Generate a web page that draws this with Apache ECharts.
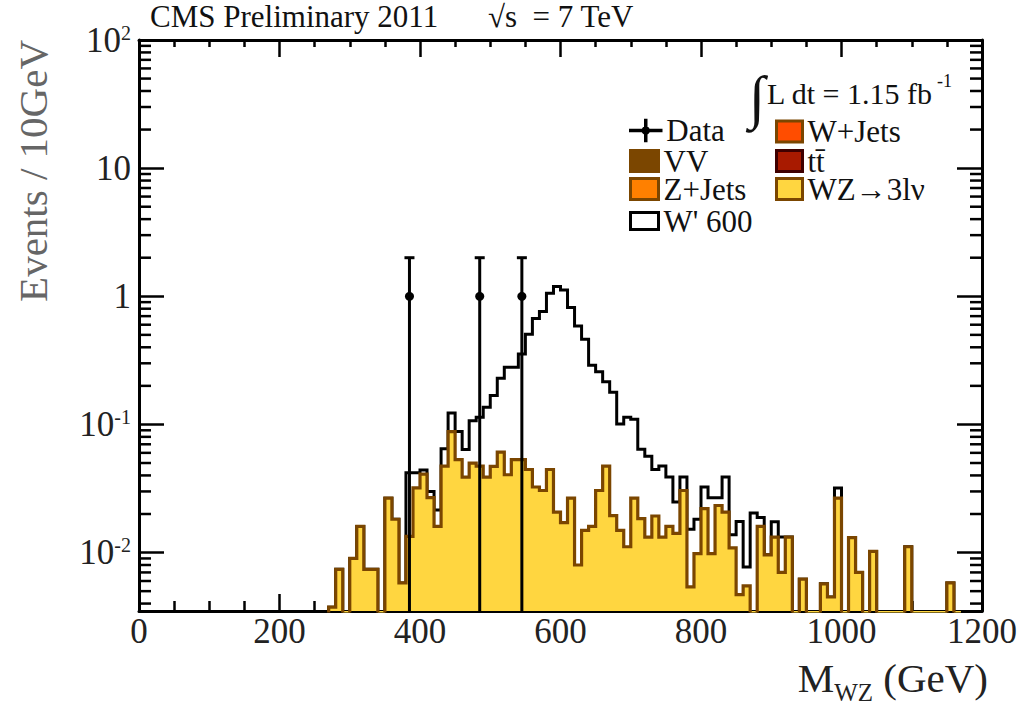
<!DOCTYPE html>
<html><head><meta charset="utf-8">
<script src="https://cdn.jsdelivr.net/npm/echarts@6/dist/echarts.min.js"></script>
<style>html,body{margin:0;padding:0;background:#fff}#c{width:1020px;height:705px}</style>
</head><body><div id="c"></div>
<script>
// ---------------- data ----------------
const binWidth = 10;          // GeV
const binStart = 270;         // low edge of first listed bin
// WZ -> 3lv background (events / 10 GeV), bins 270..1170 GeV
const wzValues = [
  0.00375, 0.0074, 0, 0.009, 0.016, 0.0074, 0.0074, 0, 0.0266, 0.0182,
  0.0058, 0.0134, 0.032, 0.041, 0.0268, 0.016, 0.0473, 0.0879, 0.0532, 0.0388,
  0.0499, 0.0473, 0.0388, 0.047, 0.0607, 0.0405, 0.0532, 0.0532, 0.0445, 0.0325,
  0.0305, 0.0445, 0.0207, 0.0171, 0.0266, 0.008, 0.0149, 0.016, 0.0305, 0.0473,
  0.0194, 0.0149, 0.0111, 0.0266, 0.0184, 0.0132, 0.0193, 0.0132, 0.016, 0.0141,
  0.0305, 0.0054, 0.0098, 0.022, 0.0098, 0.0233, 0.0207, 0.0109, 0.0047, 0.0055,
  0, 0.016, 0.0096, 0.0132, 0.007, 0.0132, 0, 0.0062, 0, 0,
  0.0057, 0.0045, 0.0266, 0, 0.0131, 0.007, 0, 0.0102, 0, 0,
  0, 0, 0.0111, 0, 0, 0, 0, 0, 0.0058, 0
];
// W' 600 signal stacked on the background (outline height), same bins
const wprimeStack = [
  0.00375, 0.0074, 0, 0.009, 0.016, 0.0074, 0.0074, 0, 0.0266, 0.0182,
  0.0058, 0.042, 0.042, 0.044, 0.030, 0.0215, 0.0645, 0.123, 0.088, 0.0637,
  0.107, 0.114, 0.136, 0.168, 0.229, 0.279, 0.279, 0.354, 0.506, 0.670,
  0.760, 1.055, 1.19, 1.12, 0.816, 0.587, 0.463, 0.290, 0.258, 0.215,
  0.178, 0.101, 0.114, 0.110, 0.064, 0.0565, 0.0445, 0.0473, 0.0388, 0.0248,
  0.0388, 0.0152, 0.0182, 0.0325, 0.0268, 0.0268, 0.0388, 0.0138, 0.0175, 0.0077,
  0.0204, 0.0188, 0.0096, 0.0174, 0.0132, 0.0132, 0, 0.0062, 0, 0,
  0.0057, 0.0045, 0.0319, 0, 0.0131, 0.007, 0, 0.0102, 0, 0,
  0, 0, 0.0111, 0, 0, 0, 0, 0, 0.0058, 0
];
// observed data
const dataX = [385, 485, 545];
const dataY = [1, 1, 1];
const dataErr = [1, 1, 1];
// axes
const xMin = 0, xMax = 1200, xInterval = 200;
const yMin = 0.0035, yMax = 100;
const yTickValues = [0.01, 0.1, 1, 10, 100];
const yTickLabels = ['10^-2', '10^-1', '1', '10', '10^2'];
const yMinorTickValues = [
  0.004, 0.005, 0.006, 0.007, 0.008, 0.009,
  0.02, 0.03, 0.04, 0.05, 0.06, 0.07, 0.08, 0.09,
  0.2, 0.3, 0.4, 0.5, 0.6, 0.7, 0.8, 0.9,
  2, 3, 4, 5, 6, 7, 8, 9,
  20, 30, 40, 50, 60, 70, 80, 90
];
const legendLeftNames = ['Data', 'VV', 'Z+Jets', "W' 600"];
const legendRightNames = ['W+Jets', 'tt̄', 'WZ→3lν'];

// ---------------- styling ----------------
const serif = '"Liberation Serif", "DejaVu Serif", serif';
const brown = '#7b4600';
const yellow = '#ffd640';
const colors = {
  'VV': { fill: '#7b4600', border: '#7b4600' },
  'Z+Jets': { fill: '#ff8000', border: brown },
  "W' 600": { fill: '#ffffff', border: '#000000' },
  'W+Jets': { fill: '#ff4d00', border: brown },
  'tt̄': { fill: '#a81a00', border: '#3f0000' },
  'WZ→3lν': { fill: yellow, border: brown }
};

function stepPoints(values) {
  const floor = yMin * 0.5;
  const pts = [[binStart, floor]];
  values.forEach((v, i) => {
    const lo = binStart + i * binWidth, hi = lo + binWidth;
    const y = v > 0 ? v : floor;
    pts.push([lo, y], [hi, y]);
  });
  pts.push([binStart + values.length * binWidth, floor]);
  return pts;
}

function yLabel(value) {
  const idx = yTickValues.findIndex(t => Math.abs(Math.log10(t) - Math.log10(value)) < 1e-6);
  if (idx < 0) return '';
  const s = yTickLabels[idx];
  const parts = s.split('^');
  return parts.length === 2 ? '{b|' + parts[0] + '}{s|' + parts[1] + '}' : '{b|' + s + '}';
}

function renderData(params, api) {
  const x = api.value(0), y = api.value(1), e = api.value(2);
  const cs = params.coordSys;
  const c = api.coord([x, y]);
  const top = api.coord([x, y + e]);
  const lowVal = y - e;
  const bottomY = lowVal > yMin ? api.coord([x, lowVal])[1] : cs.y + cs.height;
  return { type: 'group', children: [
    { type: 'line', shape: { x1: c[0], y1: top[1], x2: c[0], y2: bottomY }, style: { stroke: '#000', lineWidth: 3 } },
    { type: 'line', shape: { x1: c[0] - 5, y1: top[1], x2: c[0] + 5, y2: top[1] }, style: { stroke: '#000', lineWidth: 3 } },
    { type: 'circle', shape: { cx: c[0], cy: c[1], r: 4.5 }, style: { fill: '#000' } }
  ]};
}

function renderMinor(params, api) {
  const cs = params.coordSys;
  const y = api.coord([xMin, api.value(1)])[1];
  const L = 12;
  return { type: 'group', children: [
    { type: 'line', shape: { x1: cs.x, y1: y, x2: cs.x + L, y2: y }, style: { stroke: '#000', lineWidth: 2.5 } },
    { type: 'line', shape: { x1: cs.x + cs.width - L, y1: y, x2: cs.x + cs.width, y2: y }, style: { stroke: '#000', lineWidth: 2.5 } }
  ]};
}

const dataIcon = 'path://M0 11H31V12H0Z M15 1H16V22H15Z M12.5 11.5A3 3 0 1 0 18.5 11.5A3 3 0 1 0 12.5 11.5Z';
const legendText = { fontFamily: serif, fontSize: 31, lineHeight: 26, color: '#111', padding: [0, 0, 5, 0] };
// one legend component per row, to reproduce the two-column ROOT legend
const rowCenters = [126.5, 156, 184, 214];
function legendRow(name, left, row, w) {
  let item;
  if (name === 'Data') {
    item = { name, icon: dataIcon, itemStyle: { color: '#000', borderColor: '#000', borderWidth: 2.5 } };
  } else {
    const c = colors[name];
    item = { name, icon: 'rect', itemStyle: { color: c.fill, borderColor: c.border, borderWidth: 3 } };
  }
  const h = name === 'Data' ? 23 : (name === "W' 600" ? 17 : 21);
  return { data: [item], left, top: rowCenters[row] - h / 2, orient: 'vertical',
    itemWidth: name === 'Data' ? 31 : w, itemHeight: h, itemGap: 0, padding: 0,
    selectedMode: false, textStyle: legendText };
}
const legends = legendLeftNames.map((n, i) => legendRow(n, 629, i, 28))
  .concat(legendRightNames.map((n, i) => legendRow(n, 775, i, 26)));

const axisLineStyle = { color: '#000', width: 3 };
const tickStyle = { color: '#000', width: 2.5 };

const option = {
  animation: false,
  backgroundColor: '#fff',
  grid: { left: 139, right: 38, top: 40, bottom: 94 },
  title: [
    { text: 'CMS Preliminary 2011', left: 150, top: 1, padding: 0,
      textStyle: { fontFamily: serif, fontSize: 31, fontWeight: 'normal', color: '#111' } },
    { text: '√s \u00a0= 7 TeV', left: 488, top: 1, padding: 0,
      textStyle: { fontFamily: serif, fontSize: 31, fontWeight: 'normal', color: '#111' } }
  ],
  graphic: [
    { type: 'text', left: 749, top: 67, style: { text: '∫', font: '59px "Liberation Serif"', fill: '#111' } },
    { type: 'text', left: 767, top: 78, style: { text: 'L dt = 1.15 fb', font: '30px "Liberation Serif"', fill: '#111' } },
    { type: 'text', left: 937, top: 72, style: { text: '-1', font: '18px "Liberation Serif"', fill: '#111' } }
  ],
  legend: legends,
  xAxis: [
    { type: 'value', min: xMin, max: xMax, interval: xInterval, position: 'bottom',
      name: '{m|M}{sub|WZ}{m| (GeV)}', nameLocation: 'end', nameGap: 6, nameMoveOverlap: false,
      nameTextStyle: { align: 'right', verticalAlign: 'top', padding: [39, 0, 0, 0],
        rich: { m: { fontFamily: serif, fontSize: 41, color: '#222' },
                sub: { fontFamily: serif, fontSize: 25, color: '#222', verticalAlign: 'top', padding: [30, 0, 0, 0] } } },
      axisLine: { show: true, onZero: false, lineStyle: axisLineStyle },
      axisTick: { show: true, inside: true, length: 17, lineStyle: tickStyle },
      minorTick: { show: true, splitNumber: 4, length: 10, lineStyle: tickStyle },
      axisLabel: { fontFamily: serif, fontSize: 35, color: '#222', margin: 3, formatter: v => String(v) },
      splitLine: { show: false }, minorSplitLine: { show: false } },
    { type: 'value', min: xMin, max: xMax, interval: xInterval, position: 'top',
      axisLine: { show: true, onZero: false, lineStyle: axisLineStyle },
      axisTick: { show: true, inside: true, length: 17, lineStyle: tickStyle },
      minorTick: { show: true, splitNumber: 4, length: 7, lineStyle: tickStyle },
      axisLabel: { show: false }, splitLine: { show: false } }
  ],
  yAxis: [
    { type: 'log', logBase: 10, min: yMin, max: yMax, position: 'left',
      name: 'Events / 10GeV', nameLocation: 'end', nameGap: 0, nameRotate: 90, nameMoveOverlap: false,
      nameTextStyle: { fontFamily: serif, fontSize: 41, color: '#666', align: 'right', verticalAlign: 'bottom', padding: [0, 0, 86, 0] },
      axisLine: { show: true, onZero: false, lineStyle: axisLineStyle },
      axisTick: { show: true, inside: true, length: 25, lineStyle: tickStyle },
      axisLabel: { margin: 8, formatter: yLabel,
        rich: { b: { fontFamily: serif, fontSize: 35, color: '#222', verticalAlign: 'bottom' },
                s: { fontFamily: serif, fontSize: 20, color: '#222', verticalAlign: 'top', padding: [0, 0, 14, 0] } } },
      splitLine: { show: false } },
    { type: 'log', logBase: 10, min: yMin, max: yMax, position: 'right',
      axisLine: { show: true, onZero: false, lineStyle: axisLineStyle },
      axisTick: { show: true, inside: true, length: 25, lineStyle: tickStyle },
      axisLabel: { show: false }, splitLine: { show: false } }
  ],
  series: [
    { name: "W' 600", type: 'line', data: stepPoints(wprimeStack), symbol: 'none', showSymbol: false,
      lineStyle: { color: '#000', width: 3, join: 'miter' }, itemStyle: { color: '#000' }, z: 2, clip: true },
    { name: 'WZ→3lν', type: 'line', data: stepPoints(wzValues), symbol: 'none', showSymbol: false,
      lineStyle: { color: brown, width: 3.2, join: 'miter' }, itemStyle: { color: yellow },
      areaStyle: { color: yellow, opacity: 1, origin: 'start' }, z: 3, clip: true },
    { name: 'VV', type: 'line', data: [] },
    { name: 'Z+Jets', type: 'line', data: [] },
    { name: 'W+Jets', type: 'line', data: [] },
    { name: 'tt̄', type: 'line', data: [] },
    { name: 'Data', type: 'custom', renderItem: renderData, itemStyle: { color: '#000' },
      data: dataX.map((x, i) => [x, dataY[i], dataErr[i]]), z: 6 },
    { type: 'custom', renderItem: renderMinor, silent: true, data: yMinorTickValues.map(v => [xMin, v]), z: 7 }
  ]
};

const chart = echarts.init(document.getElementById('c'), null, { renderer: 'svg', width: 1020, height: 705 });
chart.setOption(option);
</script>
</body></html>
